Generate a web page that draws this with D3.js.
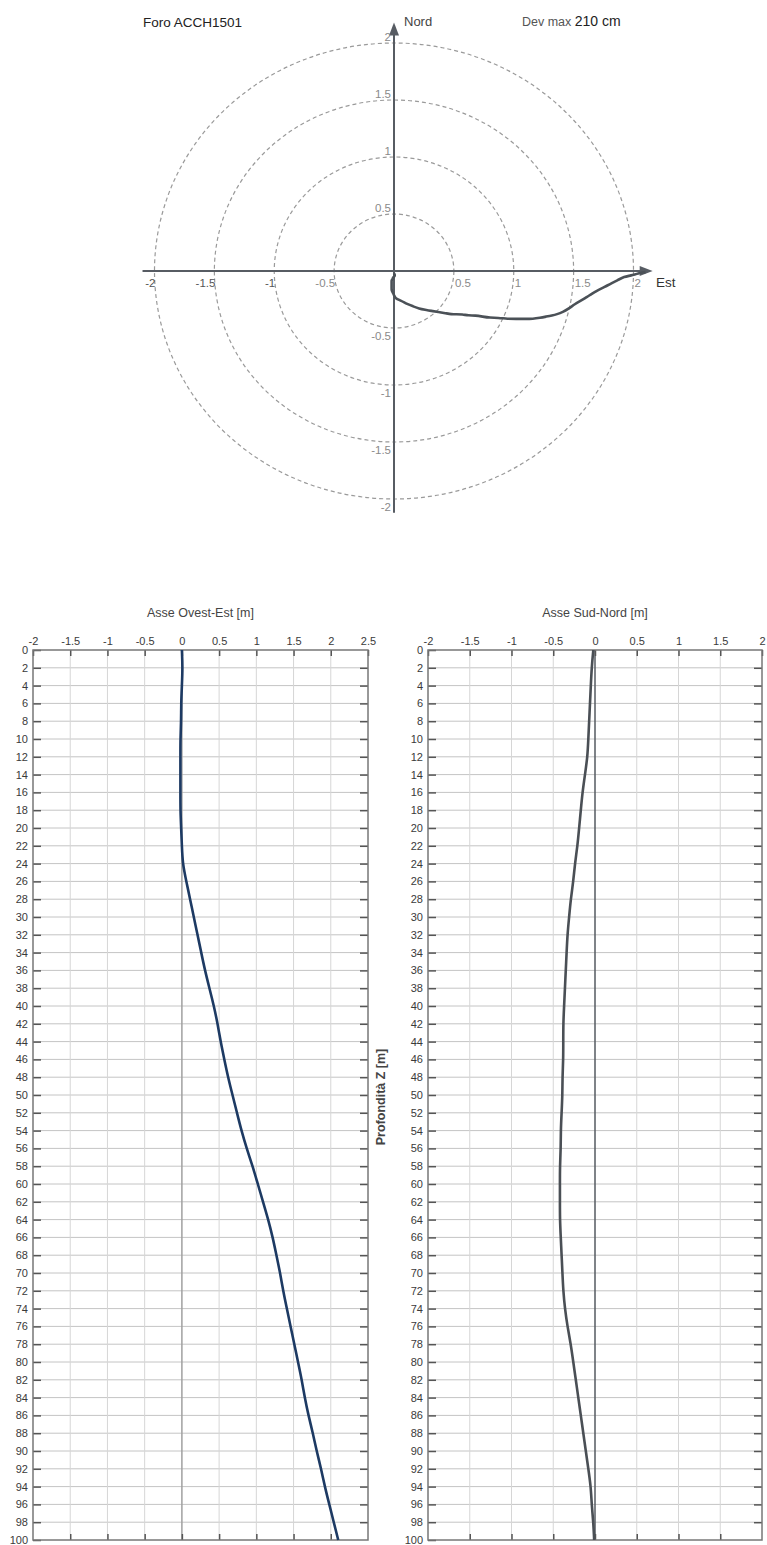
<!DOCTYPE html>
<html>
<head>
<meta charset="utf-8">
<script src="https://d3js.org/d3.v7.min.js"></script>
<style>
  body { margin: 0; background: #fff; }
  text { font-family: "Liberation Sans", Arial, sans-serif; }
</style>
</head>
<body>
<div id="chart"></div>
<script>
// depth of each reading [m]
var depths = [0, 2, 4, 6, 8, 10, 12, 14, 16, 18, 20, 22, 24, 26, 28, 30, 32, 34, 36, 38, 40,
              42, 44, 46, 48, 50, 52, 54, 56, 58, 60, 62, 64, 66, 68, 70, 72, 74, 76, 78, 80,
              82, 84, 86, 88, 90, 92, 94, 96, 98, 100];

// displacement along West-East axis [m]
var ovestEst = [0.00, 0.01, 0.00, -0.01, -0.01, -0.02, -0.02, -0.02, -0.02, -0.02, -0.01,
                0.00, 0.01, 0.06, 0.11, 0.16, 0.21, 0.26, 0.31, 0.37, 0.43,
                0.48, 0.52, 0.57, 0.62, 0.68, 0.74, 0.80, 0.87, 0.95, 1.02,
                1.09, 1.16, 1.22, 1.27, 1.32, 1.36, 1.41, 1.46, 1.51, 1.56,
                1.61, 1.65, 1.70, 1.76, 1.81, 1.87, 1.92, 1.98, 2.04, 2.10];

// displacement along South-North axis [m]
var sudNord = [-0.02, -0.04, -0.05, -0.06, -0.07, -0.08, -0.09, -0.12, -0.15, -0.17, -0.19,
               -0.21, -0.24, -0.26, -0.29, -0.31, -0.33, -0.34, -0.35, -0.36, -0.37,
               -0.38, -0.38, -0.38, -0.39, -0.39, -0.40, -0.41, -0.41, -0.42, -0.42,
               -0.42, -0.42, -0.41, -0.40, -0.39, -0.38, -0.36, -0.33, -0.29, -0.26,
               -0.23, -0.20, -0.17, -0.14, -0.11, -0.08, -0.05, -0.04, -0.02, -0.01];

var rings = [0.5, 1, 1.5, 2];
var polarTicks = [-2, -1.5, -1, -0.5, 0.5, 1, 1.5, 2];
var oeTicks = [-2, -1.5, -1, -0.5, 0, 0.5, 1, 1.5, 2, 2.5];
var snTicks = [-2, -1.5, -1, -0.5, 0, 0.5, 1, 1.5, 2];

var W = 767, H = 1545;
var axisCol = "#575c63";

var svg = d3.select("#chart").append("svg")
    .attr("width", W)
    .attr("height", H);

// ---------- polar plan view ----------
var px = d3.scaleLinear().domain([-2, 2]).range([154.5, 633.5]);
var py = d3.scaleLinear().domain([-2, 2]).range([499, 43]);

var polar = svg.append("g").attr("class", "polar");

polar.selectAll(".ring")
    .data(rings)
    .enter().append("ellipse")
    .attr("class", "ring")
    .attr("cx", px(0))
    .attr("cy", py(0))
    .attr("rx", d => px(d) - px(0))
    .attr("ry", d => py(0) - py(d))
    .style("fill", "none")
    .style("stroke", "#9a9a9a")
    .style("stroke-width", 1.2)
    .style("stroke-dasharray", "4,3");

// axes with arrows
polar.append("line")
    .attr("x1", px(-2.1)).attr("y1", py(0))
    .attr("x2", px(2.12)).attr("y2", py(0))
    .style("stroke", axisCol).style("stroke-width", 2);
polar.append("line")
    .attr("x1", px(0)).attr("y1", py(-2.12))
    .attr("x2", px(0)).attr("y2", py(2.12))
    .style("stroke", axisCol).style("stroke-width", 2);

var ex = px(2.16), ny = py(2.18);
polar.append("path")
    .attr("d", `M${ex},${py(0)} L${ex - 13},${py(0) - 5} L${ex - 13},${py(0) + 5} Z`)
    .style("fill", axisCol);
polar.append("path")
    .attr("d", `M${px(0)},${ny} L${px(0) - 5},${ny + 13} L${px(0) + 5},${ny + 13} Z`)
    .style("fill", axisCol);

// tick labels on the horizontal axis
polar.selectAll(".xlab")
    .data(polarTicks)
    .enter().append("text")
    .attr("class", "xlab")
    .attr("x", d => px(d) + 1)
    .attr("y", py(0) + 16)
    .attr("text-anchor", d => d < 0 ? "end" : "start")
    .style("font-size", "11.5px")
    .style("fill", d => d < -0.6 ? "#555" : "#8a8a8a")
    .text(d => String(d));

// tick labels on the vertical axis
polar.selectAll(".ylab")
    .data(polarTicks)
    .enter().append("text")
    .attr("class", "ylab")
    .attr("x", px(0) - 3)
    .attr("y", d => d > 0 ? py(d) - 2 : py(d) + 12)
    .attr("text-anchor", "end")
    .style("font-size", "11.5px")
    .style("fill", "#8a8a8a")
    .text(d => String(d));

// trajectory of the borehole in plan
var planLine = d3.line()
    .x((d, i) => px(ovestEst[i]))
    .y((d, i) => py(sudNord[i]))
    .curve(d3.curveBasis);

polar.append("path")
    .datum(depths)
    .attr("d", planLine)
    .style("fill", "none")
    .style("stroke", "#4b5157")
    .style("stroke-width", 2.6)
    .style("stroke-linejoin", "round");

svg.append("text")
    .attr("x", 143).attr("y", 27)
    .style("font-size", "13.5px").style("fill", "#222")
    .text("Foro ACCH1501");
svg.append("text")
    .attr("x", 404).attr("y", 26)
    .style("font-size", "13px").style("fill", "#444")
    .text("Nord");
svg.append("text")
    .attr("x", 656).attr("y", 287)
    .style("font-size", "13.5px").style("fill", "#333")
    .text("Est");
var dev = svg.append("text")
    .attr("x", 522).attr("y", 26)
    .style("fill", "#555");
dev.append("tspan").style("font-size", "12.5px").text("Dev max ");
dev.append("tspan").style("font-size", "14px").style("fill", "#222").text("210 cm");

// ---------- depth profiles ----------
var yDepth = d3.scaleLinear().domain([0, 100]).range([650, 1540]);

function profile(x0, x1, domain, ticks, values, title, lineCol, zeroCol) {
    var x = d3.scaleLinear().domain(domain).range([x0, x1]);
    var g = svg.append("g");

    // grid
    g.selectAll(".hgrid")
        .data(depths.slice(1, -1))
        .enter().append("line")
        .attr("x1", x0).attr("x2", x1)
        .attr("y1", d => yDepth(d)).attr("y2", d => yDepth(d))
        .style("stroke", "#c4c4c4").style("stroke-width", 1);
    g.selectAll(".vgrid")
        .data(ticks.slice(1, -1))
        .enter().append("line")
        .attr("x1", d => x(d)).attr("x2", d => x(d))
        .attr("y1", yDepth(0)).attr("y2", yDepth(100))
        .style("stroke", d => d === 0 ? zeroCol : "#d6d6d6")
        .style("stroke-width", d => d === 0 ? 1.5 : 1);

    // axes
    g.append("g")
        .attr("transform", `translate(0,${yDepth(0)})`)
        .call(d3.axisTop(x).tickValues(ticks).tickSize(-6).tickPadding(5).tickFormat(d => String(d)));
    g.append("g")
        .attr("transform", `translate(0,${yDepth(100)})`)
        .call(d3.axisBottom(x).tickValues(ticks.slice(1, -1)).tickSize(-6).tickFormat(""));
    g.append("g")
        .attr("transform", `translate(${x0},0)`)
        .call(d3.axisLeft(yDepth).tickValues(depths).tickSize(-8).tickPadding(5).tickFormat(d => String(d)));
    g.append("g")
        .attr("transform", `translate(${x1},0)`)
        .call(d3.axisRight(yDepth).tickValues(depths.slice(1, -1)).tickSize(-8).tickFormat(""));

    g.selectAll(".domain").remove();
    g.selectAll(".tick line").style("stroke", "#555").style("stroke-width", 1.5);
    g.selectAll(".tick text")
        .style("font-size", "11px")
        .style("fill", "#3a3a3a")
        .style("font-family", "'Liberation Sans', Arial, sans-serif");

    // box
    g.append("rect")
        .attr("x", x0).attr("y", yDepth(0))
        .attr("width", x1 - x0).attr("height", yDepth(100) - yDepth(0))
        .style("fill", "none").style("stroke", "#777").style("stroke-width", 1.5);

    // deviation curve
    g.append("path")
        .datum(depths)
        .attr("d", d3.line()
            .x((d, i) => x(values[i]))
            .y(d => yDepth(d))
            .curve(d3.curveBasis))
        .style("fill", "none")
        .style("stroke", lineCol)
        .style("stroke-width", 2.6);

    g.append("text")
        .attr("x", (x0 + x1) / 2).attr("y", 617)
        .attr("text-anchor", "middle")
        .style("font-size", "12.5px").style("fill", "#444")
        .text(title);
}

profile(33, 368, [-2, 2.5], oeTicks, ovestEst, "Asse Ovest-Est [m]", "#1d3a63", "#a0a0a0");
profile(428, 762, [-2, 2], snTicks, sudNord, "Asse Sud-Nord [m]", "#4a4f55", "#555a60");

svg.append("text")
    .attr("transform", "translate(385,1097) rotate(-90)")
    .attr("text-anchor", "middle")
    .style("font-size", "12.5px").style("fill", "#444").style("font-weight", "bold")
    .text("Profondità Z [m]");
</script>
</body>
</html>
